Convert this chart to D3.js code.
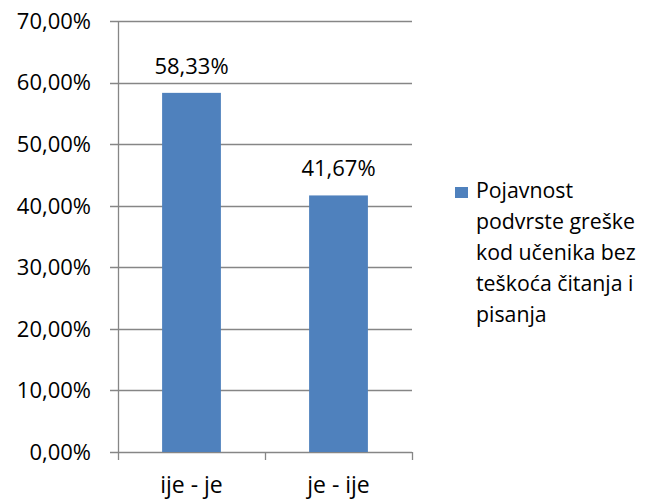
<!DOCTYPE html>
<html>
<head>
<meta charset="utf-8">
<script src="https://cdn.jsdelivr.net/npm/d3@7.9.0/dist/d3.min.js"></script>
<style>
  body { margin: 0; background: #fff; }
  text { font-family: "Open Sans", sans-serif; fill: #000; }
</style>
</head>
<body>
<svg id="chart" width="651" height="502"></svg>
<script>
// data
const categories = ["ije - je", "je - ije"];
const values = [0.5833, 0.4167];
const yTicks = [0, 0.1, 0.2, 0.3, 0.4, 0.5, 0.6, 0.7];
const legendLines = ["Pojavnost", "podvrste greške", "kod učenika bez", "teškoća čitanja i", "pisanja"];

const svg = d3.select("#chart");
const gridColor = "#868686";
const barColor = "#4f81bd";

const locale = d3.formatLocale({decimal: ",", thousands: ".", grouping: [3], currency: ["", ""]});
const pct = locale.format(".2%");

let x = d3.scaleBand()
    .domain(categories)
    .range([118, 412])
    .paddingInner(0.6)
    .paddingOuter(0.3);

let y = d3.scaleLinear()
    .domain([0, 0.7])
    .range([452, 21]);

// gridlines
svg.append("g")
    .selectAll("line")
    .data(yTicks)
    .join("line")
    .attr("x1", 110)
    .attr("x2", 412)
    .attr("y1", d => Math.round(y(d)) + 0.5)
    .attr("y2", d => Math.round(y(d)) + 0.5)
    .attr("stroke", gridColor)
    .attr("stroke-width", 1.3);

// y axis line
svg.append("line")
    .attr("x1", 118.5).attr("x2", 118.5)
    .attr("y1", y(0.7)).attr("y2", y(0))
    .attr("stroke", gridColor)
    .attr("stroke-width", 1.3);

// y labels
svg.append("g")
    .selectAll("text")
    .data(yTicks)
    .join("text")
    .attr("x", 91)
    .attr("y", d => y(d))
    .attr("dy", "0.36em")
    .attr("text-anchor", "end")
    .style("font-size", "22px")
    .text(d => pct(d));

// bars
svg.append("g")
    .selectAll("rect")
    .data(values)
    .join("rect")
    .attr("x", (d, i) => x(categories[i]))
    .attr("width", x.bandwidth())
    .attr("y", d => y(d))
    .attr("height", d => y(0) - y(d))
    .attr("fill", barColor);

// data labels
svg.append("g")
    .selectAll("text")
    .data(values)
    .join("text")
    .attr("x", (d, i) => x(categories[i]) + x.bandwidth() / 2)
    .attr("y", d => y(d) - 19)
    .attr("text-anchor", "middle")
    .style("font-size", "22px")
    .text(d => pct(d));

// x axis ticks at category boundaries
let bounds = d3.range(categories.length + 1).map(i => x.range()[0] + i * x.step());
svg.append("g")
    .selectAll("line")
    .data(bounds)
    .join("line")
    .attr("x1", d => Math.round(d) + 0.5)
    .attr("x2", d => Math.round(d) + 0.5)
    .attr("y1", y(0))
    .attr("y2", y(0) + 8)
    .attr("stroke", gridColor)
    .attr("stroke-width", 1.3);

// x labels
svg.append("g")
    .selectAll("text")
    .data(categories)
    .join("text")
    .attr("x", d => x(d) + x.bandwidth() / 2)
    .attr("y", 493)
    .attr("text-anchor", "middle")
    .style("font-size", "23px")
    .text(d => d);

// legend
let legend = svg.append("g");
legend.append("rect")
    .attr("x", 455).attr("y", 187)
    .attr("width", 13).attr("height", 11)
    .attr("fill", barColor);
legend.selectAll("text")
    .data(legendLines)
    .join("text")
    .attr("x", 476)
    .attr("y", (d, i) => 198 + i * 31)
    .style("font-size", "21.3px")
    .text(d => d);
</script>
</body>
</html>
